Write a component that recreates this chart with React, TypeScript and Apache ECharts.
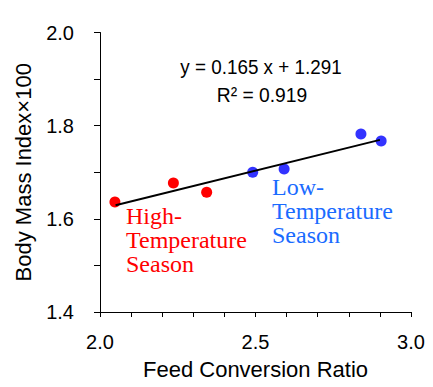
import React, { useEffect, useRef } from "react";
import * as echarts from "echarts";

const highTempPoints: [number, number][] = [
  [2.048, 1.636],
  [2.236, 1.677],
  [2.343, 1.657],
];
const lowTempPoints: [number, number][] = [
  [2.491, 1.700],
  [2.592, 1.707],
  [2.839, 1.782],
  [2.904, 1.767],
];
const fitLine: [number, number][] = [
  [2.05, 1.6293],
  [2.9, 1.7695],
];
const equationText = "y = 0.165 x + 1.291";
const r2Text = "R² = 0.919";
const xName = "Feed Conversion Ratio";
const yName = "Body Mass Index×100";
const highLabel = "High-\nTemperature\nSeason";
const lowLabel = "Low-\nTemperature\nSeason";

const sans = '"Liberation Sans", Arial, sans-serif';
const serif = '"Liberation Serif", "Times New Roman", serif';

export default function App() {
  const ref = useRef<HTMLDivElement>(null);
  useEffect(() => {
    document.body.style.margin = "0";
    if (!ref.current) return;
    const chart = echarts.init(ref.current, null, { renderer: "svg" });
    chart.setOption({
      animation: false,
      backgroundColor: "#fff",
      grid: { left: 100, right: 22, top: 32.5, bottom: 75 },
      xAxis: {
        type: "value",
        min: 2.0,
        max: 3.0,
        interval: 0.1,
        name: xName,
        nameLocation: "middle",
        nameGap: 46,
        nameTextStyle: { fontFamily: sans, fontSize: 22, color: "#000" },
        axisLine: { show: true, onZero: false, lineStyle: { color: "#000", width: 1 } },
        axisTick: { show: true, length: 5, lineStyle: { color: "#000" } },
        splitLine: { show: false },
        axisLabel: {
          margin: 20,
          fontFamily: sans,
          fontSize: 20,
          color: "#000",
          formatter: (v: number) => (Math.round(v * 10) % 5 === 0 ? v.toFixed(1) : ""),
        },
      },
      yAxis: {
        type: "value",
        min: 1.4,
        max: 2.0,
        interval: 0.1,
        name: yName,
        nameLocation: "middle",
        nameRotate: 90,
        nameGap: 66,
        nameTextStyle: { fontFamily: sans, fontSize: 22, color: "#000" },
        axisLine: { show: true, onZero: false, lineStyle: { color: "#000", width: 1 } },
        axisTick: { show: true, length: 6, lineStyle: { color: "#000" } },
        splitLine: { show: false },
        axisLabel: {
          margin: 26,
          fontFamily: sans,
          fontSize: 20,
          color: "#000",
          formatter: (v: number) => (Math.round(v * 10) % 2 === 0 ? v.toFixed(1) : ""),
        },
      },
      series: [
        {
          type: "scatter",
          data: highTempPoints,
          symbol: "circle",
          symbolSize: 11,
          itemStyle: { color: "#FF0000", opacity: 1 },
          z: 2,
        },
        {
          type: "scatter",
          data: lowTempPoints,
          symbol: "circle",
          symbolSize: 11,
          itemStyle: { color: "#3333FF", opacity: 1 },
          z: 2,
        },
        {
          type: "line",
          data: fitLine,
          symbol: "none",
          lineStyle: { color: "#000", width: 2 },
          z: 3,
        },
      ],
      graphic: [
        {
          type: "text",
          x: 261,
          y: 66.5,
          scaleX: 0.92,
          style: {
            text: equationText,
            font: `20.5px ${sans}`,
            fill: "#000",
            align: "center",
            verticalAlign: "middle",
          },
        },
        {
          type: "text",
          x: 262,
          y: 95,
          scaleX: 0.94,
          style: {
            text: r2Text,
            font: `20.5px ${sans}`,
            fill: "#000",
            align: "center",
            verticalAlign: "middle",
          },
        },
        {
          type: "text",
          x: 126,
          y: 203.5,
          style: {
            text: highLabel,
            font: `24px ${serif}`,
            fill: "#FF0000",
            lineHeight: 24,
          },
        },
        {
          type: "text",
          x: 272,
          y: 175,
          style: {
            text: lowLabel,
            font: `24px ${serif}`,
            fill: "#1A6BFF",
            lineHeight: 24,
          },
        },
      ],
    });
    return () => chart.dispose();
  }, []);
  return <div ref={ref} style={{ width: 433, height: 387 }} />;
}
